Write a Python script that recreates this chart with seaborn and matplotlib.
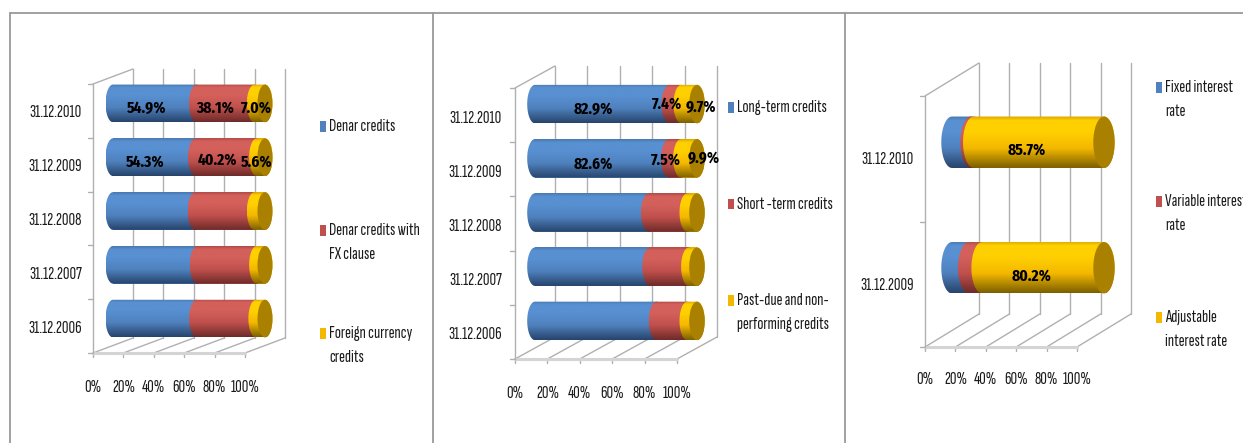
import numpy as np
import pandas as pd
import matplotlib
matplotlib.use("Agg")
import matplotlib.pyplot as plt
import matplotlib.font_manager as fm
import seaborn as sns
from matplotlib.colors import LinearSegmentedColormap
from matplotlib.lines import Line2D
from matplotlib.patches import Ellipse, PathPatch, Rectangle
from matplotlib.path import Path
from matplotlib.transforms import Affine2D

W, H = 1243, 443

# Values, in percent
dates_five = ["31.12.2010", "31.12.2009", "31.12.2008", "31.12.2007", "31.12.2006"]
dates_two = ["31.12.2010", "31.12.2009"]
x_ticks = [0, 20, 40, 60, 80, 100]

denar = [54.9, 54.3, 54.0, 55.4, 55.0]
denar_fx = [38.1, 40.2, 39.0, 39.1, 39.0]
foreign = [7.0, 5.6, 7.0, 5.5, 6.0]
series_a = ["Denar credits", "Denar credits with\nFX clause", "Foreign currency\ncredits"]

long_term = [82.9, 82.6, 70.2, 71.0, 75.0]
short_term = [7.4, 7.5, 23.8, 24.0, 19.0]
past_due = [9.7, 9.9, 6.0, 5.0, 6.0]
series_b = ["Long-term credits", "Short -term credits", "Past-due and non-\nperforming credits"]

fixed = [12.5, 11.0]
variable = [1.8, 8.8]
adjustable = [85.7, 80.2]
series_c = ["Fixed interest\nrate", "Variable interest\nrate", "Adjustable\ninterest rate"]

# Stops of the cylinder shading, top to bottom: (top edge, highlight, mid, bottom edge)
shades = [
    ["#4a78ae", "#5890d2", "#4f81bd", "#27446c"],
    ["#b04c48", "#d4605b", "#c0504d", "#6e2b29"],
    ["#dba800", "#ffd000", "#f4b800", "#7d6000"],
]
cap_color = "#aa8000"
grid_color = "#b0b0b0"

# Layout of each panel in reference pixels
panels = [
    dict(values=[denar, denar_fx, foreign], dates=dates_five, series=series_a,
         left=93, right=245, floor=353, top=84, depth=(40, 15), bar=0.70, rx=7.5,
         xlabel_y=387, legend_x=320, legend_y=[126, 230, 333], date_gap=11, date_dy=2,
         nudges={(0, 0): (-8, 5), (0, 1): (-10, 5), (0, 2): (-3, 5),
                 (1, 0): (-9, 5), (1, 1): (-9, 3), (1, 2): (-4, 5)}),
    dict(values=[long_term, short_term, past_due], dates=dates_five, series=series_b,
         left=515, right=677, floor=359, top=88, depth=(40, 22), bar=0.71, rx=7.8,
         xlabel_y=393, legend_x=728, legend_y=[107, 204, 300], date_gap=13, date_dy=3,
         nudges={(0, 0): (-9, 5), (0, 1): (-8, 0), (0, 2): (12, 3),
                 (1, 0): (-9, 6), (1, 1): (-9, 2), (1, 2): (15, 0)}),
    dict(values=[fixed, variable, adjustable], dates=dates_two, series=series_c,
         left=925, right=1077, floor=347, top=96, depth=(54, 33), bar=0.41, rx=10.7,
         xlabel_y=380, legend_x=1156, legend_y=[87, 201, 317], date_gap=11, date_dy=1,
         nudges={(0, 2): (-12, 8), (1, 2): (-11, 8)}),
]

sns.set_theme(style="white")


def pick_font(options, default):
    # The source text is a squeezed Tahoma, so take a condensed face if there is one
    for family, size in options:
        try:
            fm.findfont(family, fallback_to_default=False)
            return [family, "Liberation Sans", "DejaVu Sans"], size
        except ValueError:
            pass
    return ["Liberation Sans", "DejaVu Sans"], default


text_font, text_size = pick_font([("Sofia Sans Extra Condensed", 13.0), ("Fira Sans Extra Condensed", 10.5)], 8.5)
value_font, value_size = pick_font([("Fira Sans Extra Condensed", 12.0)], 8.5)
plt.rcParams["font.family"] = text_font
plt.rcParams["axes.unicode_minus"] = False
text_color = "#1a1a1a"

fig = plt.figure(figsize=(W / 100, H / 100), dpi=100, facecolor="white")


def px_line(x, y, **kws):
    # Figure level line given in reference pixels
    fig.add_artist(Line2D(np.array(x) / W, 1 - np.array(y) / H, transform=fig.transFigure, **kws))


def draw_panel(p):
    dx, dy = p["depth"]
    # The bars sit half way between the front plane and the back wall
    ax = fig.add_axes([
        (p["left"] + dx / 2) / W,
        1 - (p["floor"] - dy / 2) / H,
        (p["right"] - p["left"]) / W,
        (p["floor"] - p["top"]) / H,
    ])
    ax.patch.set_alpha(0)
    for s in ax.spines.values():
        s.set_visible(False)

    n = len(p["dates"])
    table = pd.DataFrame(np.array(p["values"]).T, columns=p["series"])
    table.insert(0, "date", p["dates"])
    ends = table[p["series"]].cumsum(axis=1)
    ends.insert(0, "date", p["dates"])

    # Cumulative bars, longest first, so that the shorter ones stay visible
    for k in [2, 1, 0]:
        sns.barplot(data=ends, y="date", x=p["series"][k], order=p["dates"], color=shades[k][2],
                    width=p["bar"], saturation=1, ax=ax, zorder=3, edgecolor="none")

    ax.set_xlim(0, 100)
    ax.set_ylim(n - 0.5, -0.5)
    ax.set_xlabel("")
    ax.set_ylabel("")
    ax.set_xticks([])
    ax.set_yticks([])

    front = ax.transData + Affine2D().translate(-dx / 2, -dy / 2)
    back = ax.transData + Affine2D().translate(dx / 2, dy / 2)
    wall = dict(color=grid_color, lw=1.0, zorder=1, clip_on=False)

    # Back wall, floor and left side
    for t in x_ticks:
        ax.plot([t, t], [n - 0.5, -0.5], transform=back, **wall)
        fp = front.transform((t, n - 0.5))
        bp = back.transform((t, n - 0.5))
        ax.plot([fp[0], bp[0]], [fp[1], bp[1]], transform=None, **wall)
        ax.plot([fp[0], fp[0]], [fp[1] - 4, fp[1]], transform=None, **wall)
        ax.annotate(f"{t}%", xy=(t, n - 0.5), xycoords=front, xytext=(0, -(p["xlabel_y"] - p["floor"]) * 0.72),
                    textcoords="offset points", ha="center", va="center", fontsize=text_size,
                    color=text_color, annotation_clip=False)
    ax.plot([0, 100], [n - 0.5, n - 0.5], transform=front, color="#d4d4d4", lw=2.2, zorder=1, clip_on=False)
    ax.plot([0, 0], [n - 0.5, -0.5], transform=front, **wall)
    fp = front.transform((0, -0.5))
    bp = back.transform((0, -0.5))
    ax.plot([fp[0], bp[0]], [fp[1], bp[1]], transform=None, **wall)
    for i in range(n + 1):
        tp = front.transform((0, i - 0.5))
        ax.plot([tp[0] - 5, tp[0]], [tp[1], tp[1]], transform=None, **wall)

    for i, d in enumerate(p["dates"]):
        ax.annotate(d, xy=(0, i), xycoords=front, xytext=(-p["date_gap"] * 0.72, -p["date_dy"] * 0.72),
                    textcoords="offset points", ha="right", va="center", fontsize=text_size,
                    color=text_color, annotation_clip=False)

    # Cylinder shading on top of the bars
    rx = p["rx"] * 100 / (p["right"] - p["left"])
    half = p["bar"] / 2
    theta = np.linspace(np.pi / 2, 3 * np.pi / 2, 40)
    stops = [0, 0.08, 0.3, 0.62, 1]
    for i in range(n):
        start = 0.0
        for k, name in enumerate(p["series"]):
            end = start + table[name].iloc[i]
            lx = start + rx * np.cos(theta)
            ly = i - half * np.sin(theta)
            rx_arc = end - rx * np.cos(theta[::-1])
            ry_arc = i - half * np.sin(theta[::-1])
            pts = np.column_stack([np.r_[lx, rx_arc], np.r_[ly, ry_arc]])
            outline = PathPatch(Path(np.vstack([pts, pts[0]]), closed=True), fc="none", ec="none",
                                transform=ax.transData, zorder=3, clip_on=False)
            ax.add_patch(outline)
            c = shades[k]
            cmap = LinearSegmentedColormap.from_list(
                f"cyl{k}", list(zip(stops, [c[0], c[1], c[1], c[2], c[3]])))
            im = ax.imshow(np.linspace(0, 1, 64)[:, None], cmap=cmap, aspect="auto", vmin=0, vmax=1,
                           extent=(start - rx, end + rx, i + half, i - half), zorder=4 + k * 0.1,
                           interpolation="bilinear")
            im.set_clip_box(fig.bbox)
            im.set_clip_path(outline)
            start = end
        ax.add_patch(Ellipse((100, i), 2 * rx, 2 * half, fc=cap_color, ec="none", zorder=5, clip_on=False))

    ax.set_xlim(0, 100)
    ax.set_ylim(n - 0.5, -0.5)

    # Value labels, only on the two latest dates
    for (i, k), (nx, ny) in p["nudges"].items():
        v = table[p["series"][k]].iloc[i]
        mid = table[p["series"]].iloc[i, :k].sum() + v / 2
        ax.annotate(f"{v:.1f}%", xy=(mid, i), xytext=(nx * 0.72, -ny * 0.72), textcoords="offset points",
                    ha="center", va="center", fontsize=value_size, fontweight="bold", color="black",
                    family=value_font, zorder=8, annotation_clip=False)

    # Legend
    for k, name in enumerate(p["series"]):
        y = p["legend_y"][k]
        fig.add_artist(Rectangle((p["legend_x"] / W, 1 - (y + 5.5) / H), 6 / W, 11 / H,
                                 transform=fig.transFigure, fc=shades[k][2], ec="none"))
        fig.text((p["legend_x"] + 9) / W, 1 - (y - 7) / H, name, ha="left", va="top",
                 fontsize=text_size, color=text_color, linespacing=1.75)


for p in panels:
    draw_panel(p)

# Frame lines between the panels
frame = dict(color="#9a9a9a", lw=1.3)
px_line([10, W], [13, 13], **frame)
for x in [10.5, 433, 845]:
    px_line([x, x], [13, H], **frame)

fig.savefig("out.png", dpi=100)
